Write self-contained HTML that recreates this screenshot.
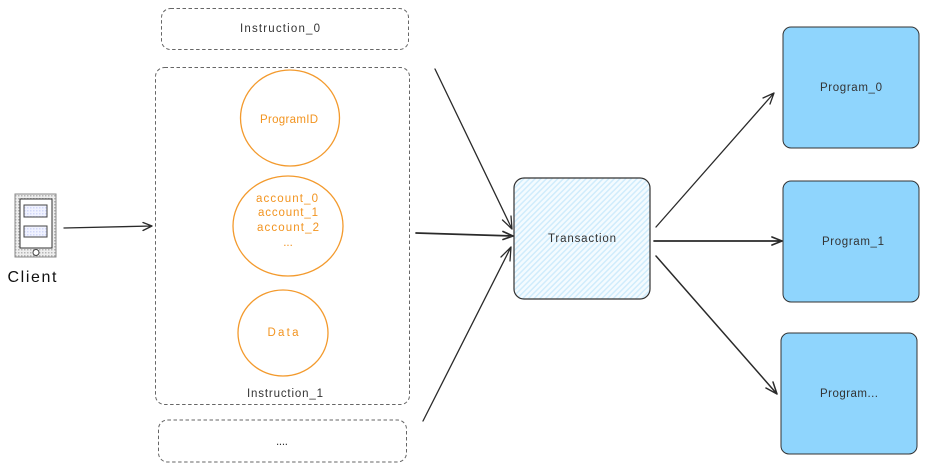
<!DOCTYPE html>
<html><head><meta charset="utf-8"><style>
html,body{margin:0;padding:0;background:#fff}
svg{display:block}
text{font-family:"Liberation Sans",sans-serif;font-size:11.500px;text-anchor:middle;fill:#333}
.o{fill:#f29420}
</style></head><body>
<svg width="927" height="469" viewBox="0 0 927 469" xmlns="http://www.w3.org/2000/svg">
<defs>
<pattern id="h" width="4" height="4" patternUnits="userSpaceOnUse" patternTransform="rotate(45)">
<rect width="4" height="4" fill="#f4fbff"/><rect width="1.500" height="4" fill="#d0ecfc"/>
</pattern>
<pattern id="d" width="3" height="3" patternUnits="userSpaceOnUse"><rect width="3" height="3" fill="#eeeeee"/><rect width="1.500" height="1.500" fill="#b5b5b5"/></pattern>
<pattern id="b" width="3" height="3" patternUnits="userSpaceOnUse"><rect width="3" height="3" fill="#f0f2ff"/><rect width="1.500" height="1.500" fill="#d2d8f8"/></pattern>
</defs>
<g fill="none" stroke="#666" stroke-width="1" stroke-dasharray="3.500 2.500">
<rect x="161.500" y="8.500" width="247" height="41" rx="9"/>
<rect x="155.500" y="67.500" width="254" height="337" rx="9"/>
<rect x="158.500" y="420" width="248" height="42" rx="9"/>
</g>
<g fill="none" stroke="#f39a2d" stroke-width="1.300">
<ellipse cx="290" cy="118" rx="49.500" ry="48"/>
<ellipse cx="288" cy="226" rx="55" ry="50"/>
<ellipse cx="283" cy="333" rx="45" ry="43"/>
</g>
<text x="280" y="32" textLength="80">Instruction_0</text>
<text class="o" x="289" y="123" textLength="58">ProgramID</text>
<text class="o" x="287" y="202" textLength="62">account_0</text>
<text class="o" x="288" y="216" textLength="60">account_1</text>
<text class="o" x="288" y="231" textLength="62">account_2</text>
<text class="o" x="288" y="246">...</text>
<text class="o" x="283" y="336" textLength="31">Data</text>
<text x="285" y="397" textLength="76">Instruction_1</text>
<text x="282" y="445" textLength="12">....</text>
<rect x="15" y="194" width="41" height="63" fill="url(#d)" stroke="#888" stroke-width="1"/>
<rect x="20" y="199" width="32" height="49" fill="#fff" stroke="#333" stroke-width="1"/>
<rect x="24" y="205" width="23" height="12" fill="url(#b)" stroke="#444"/>
<rect x="24" y="226" width="23" height="11" fill="url(#b)" stroke="#444"/>
<circle cx="36" cy="252.500" r="3" fill="#fff" stroke="#444"/>
<text x="32" y="282" textLength="49" style="font-size:16px;fill:#111">Client</text>
<rect x="514" y="178" width="136" height="121" rx="10" fill="url(#h)" stroke="#333" stroke-width="1.200"/>
<text x="582" y="242" textLength="68">Transaction</text>
<g fill="#8fd5fd" stroke="#333" stroke-width="1">
<rect x="783" y="27" width="136" height="121" rx="8"/>
<rect x="783" y="181" width="136" height="121" rx="8"/>
<rect x="781" y="333" width="136" height="121" rx="8"/>
</g>
<text x="851" y="91" textLength="62">Program_0</text>
<text x="853" y="245" textLength="62">Program_1</text>
<text x="849" y="397" textLength="58">Program...</text>
<g fill="none" stroke="#2a2a2a" stroke-width="1.300" stroke-linecap="round" stroke-linejoin="round">
<path d="M64 228 L152 226 M143 222.500 L152 226 L143 230.500"/>
<path d="M435 69 L512 229 M502.500 220 L512 229 L511 216"/>
<path d="M416 233 L513 236 M503 231.500 L513 236 L503 239.500" stroke-width="1.700"/>
<path d="M423 421 L511 247 M501 257 L511 247 L510 261"/>
<path d="M656 227 L774 93 M763 98 L774 93 L770 104"/>
<path d="M654 241 L782 241 M772 237 L782 241 L772 245" stroke-width="1.700"/>
<path d="M656 256 L777 394 M773 382 L777 394 L766 388" stroke-width="1.500"/>
</g>
</svg>
</body></html>
